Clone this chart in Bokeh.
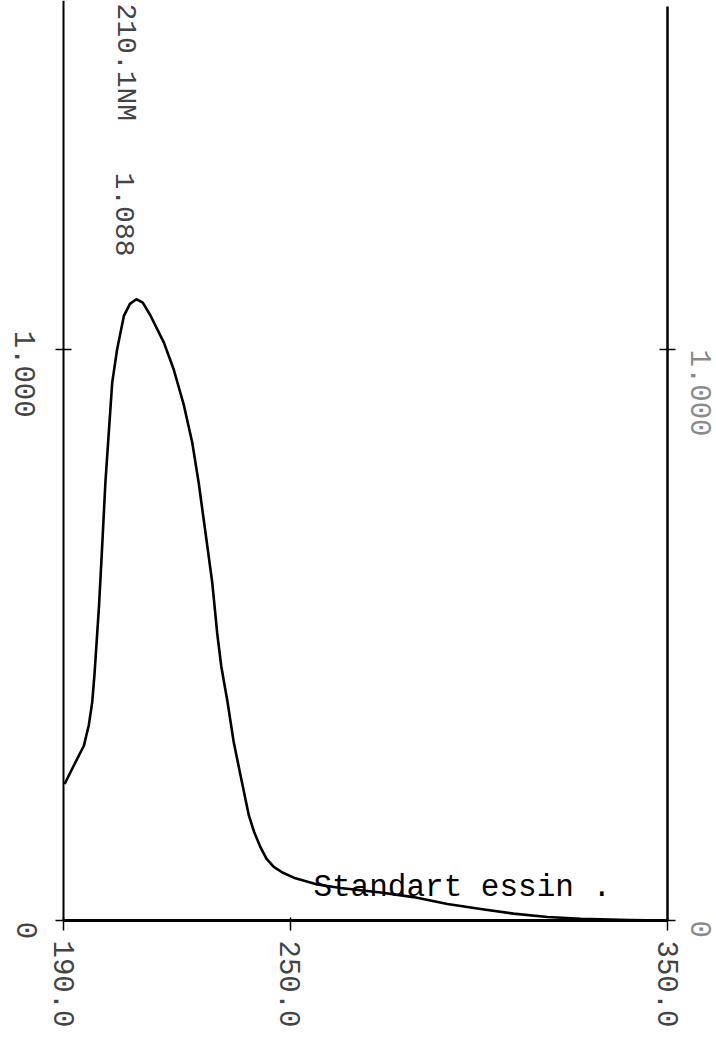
import math
from bokeh.plotting import figure
from bokeh.models import LinearAxis, FixedTicker, Range1d
from bokeh.core.properties import value
from bokeh.embed import file_html
from bokeh.resources import INLINE

# ---- data ----
wavelength = [190.3, 192.7, 195.4, 196.7, 197.6, 198.2, 198.8, 199.4, 200.2, 201.1,
              202.0, 202.9, 204.2, 206.0, 207.6, 209.3, 211.0, 213.0, 216.6, 219.2,
              221.9, 224.1, 225.8, 227.6, 229.4, 230.7, 231.8, 233.4, 235.1, 236.9,
              239.1, 240.5, 242.2, 243.8, 245.7, 248.0, 251.0, 257.2, 263.4, 274.0,
              282.7, 291.7, 300.5, 309.2, 318.2, 327.0, 340.0, 350.0]
absorbance = [0.239, 0.271, 0.306, 0.342, 0.382, 0.430, 0.490, 0.550, 0.650, 0.767,
              0.855, 0.942, 1.000, 1.059, 1.080, 1.088, 1.082, 1.060, 1.012, 0.965,
              0.902, 0.837, 0.767, 0.680, 0.592, 0.504, 0.445, 0.385, 0.312, 0.254,
              0.184, 0.155, 0.128, 0.108, 0.094, 0.084, 0.075, 0.063, 0.057, 0.049,
              0.041, 0.029, 0.020, 0.012, 0.006, 0.003, 0.001, 0.0]

x_ticks = [190, 250, 350]
x_tick_labels = ["190.0", "250.0", "350.0"]
y_ticks = [0, 1]
y_tick_labels = ["0", "1.000"]

peak_wavelength_label = "210.1NM"
peak_absorbance_label = "1.088"
sample_label = "Standart essin ."

MONO = "Liberation Mono"
DOT = "#444444"

W, H = 714, 1038
PX_NM = 3.775      # pixels per nm
PX_A = 571.0       # pixels per absorbance unit
X0, Y0 = 63, 920   # page position of (190 nm, A = 0)

x_lo = 190 - X0 / PX_NM
y_hi = Y0 / PX_A

p = figure(width=W, height=H,
           x_range=Range1d(x_lo, x_lo + W / PX_NM),
           y_range=Range1d(y_hi - H / PX_A, y_hi),
           output_backend="svg", toolbar_location=None,
           min_border=0, min_border_left=0, min_border_right=0,
           min_border_top=0, min_border_bottom=0,
           x_axis_location=None, y_axis_location=None)
p.outline_line_color = None
p.background_fill_color = "white"
p.border_fill_color = "white"
for g in p.grid:
    g.visible = False


def style_axis(ax, label_color, standoff, tin, tout, lw):
    ax.major_label_orientation = -math.pi / 2
    ax.major_label_text_font = MONO
    ax.major_label_text_font_size = "29px"
    ax.major_label_text_color = label_color
    ax.major_label_standoff = standoff
    ax.major_tick_in = tin
    ax.major_tick_out = tout
    ax.major_tick_line_color = "black"
    ax.major_tick_line_width = 1.5
    ax.minor_tick_line_color = None
    ax.axis_line_color = "black"
    ax.axis_line_width = lw


def overrides(ticks, labels):
    return {float(t): s for t, s in zip(ticks, labels)}


xa = LinearAxis(ticker=FixedTicker(ticks=x_ticks), fixed_location=0,
                bounds=(x_ticks[0], x_ticks[-1]),
                major_label_overrides=overrides(x_ticks, x_tick_labels))
style_axis(xa, DOT, 10, 3, 10, 3)
p.add_layout(xa, "below")

ya = LinearAxis(ticker=FixedTicker(ticks=y_ticks), fixed_location=x_ticks[0],
                bounds=(0, y_hi),
                major_label_overrides=overrides(y_ticks, y_tick_labels))
style_axis(ya, None, 19, 8, 8, 2)
p.add_layout(ya, "left")

yr = LinearAxis(ticker=FixedTicker(ticks=y_ticks), fixed_location=x_ticks[-1],
                bounds=(0, y_hi - 6 / PX_A),
                major_label_overrides=overrides(y_ticks, y_tick_labels))
style_axis(yr, "#8a8a8a", 25, 8, 8, 2.5)
p.add_layout(yr, "right")

# left tick labels: the print-out starts them at the tick and runs them downward
p.text(x=[179.93, 180.46], y=[y_ticks[1] + 0.033, y_ticks[0] - 0.002],
       text=[y_tick_labels[1], y_tick_labels[0]], angle=-math.pi / 2,
       text_align="left", text_baseline="middle",
       text_font=value(MONO), text_font_size="29px", text_color=DOT)

p.line(wavelength, absorbance, line_color="black", line_width=2.6,
       line_join="round")

p.text(x=[206.4], y=[1.606], text=[peak_wavelength_label], angle=-math.pi / 2,
       text_align="left", text_baseline="middle",
       text_font=value(MONO), text_font_size="28px", text_color=DOT)
p.text(x=[206.4], y=[1.310], text=[peak_absorbance_label], angle=-math.pi / 2,
       text_align="left", text_baseline="middle",
       text_font=value(MONO), text_font_size="28px", text_color=DOT)

p.text(x=[256.2], y=[0.058], text=[sample_label],
       text_align="left", text_baseline="alphabetic",
       text_font=value(MONO), text_font_size="31px", text_color="black")

open("out.html", "w").write(file_html(p, INLINE))
